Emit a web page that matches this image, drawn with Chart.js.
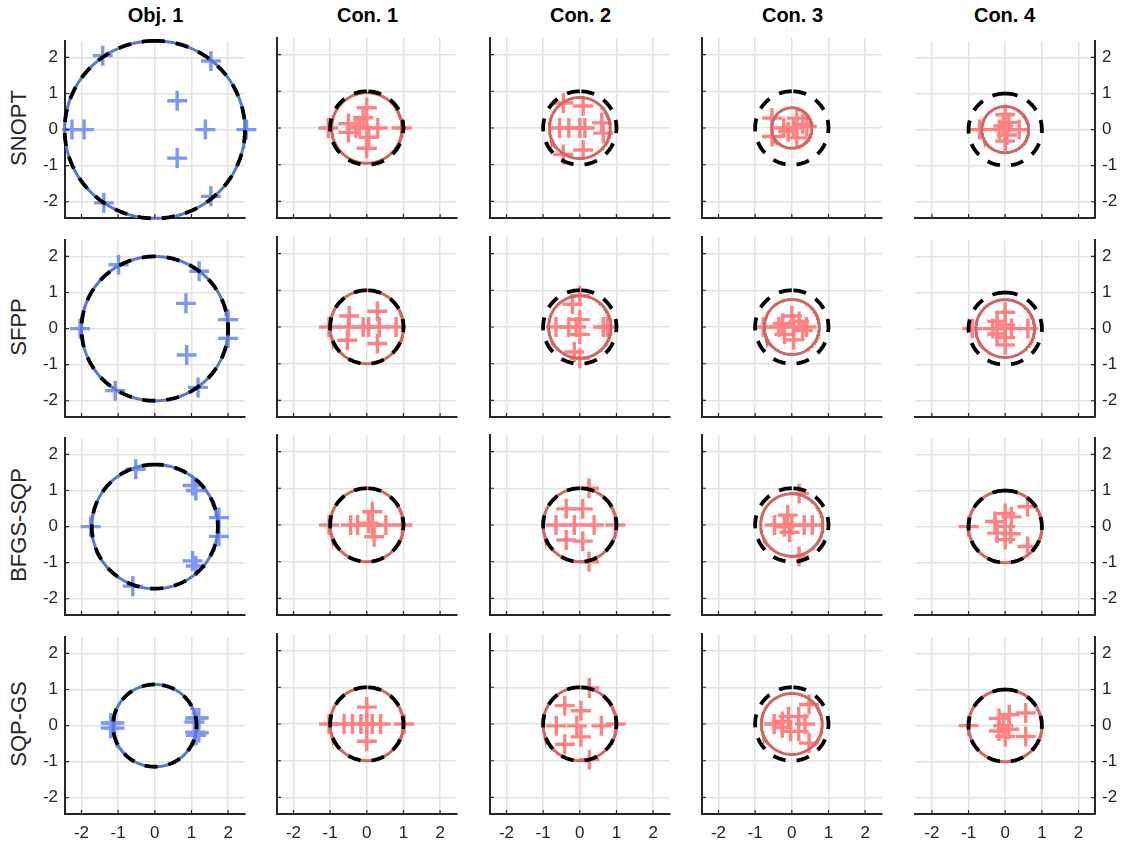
<!DOCTYPE html>
<html>
<head>
<meta charset="utf-8">
<script src="https://cdn.jsdelivr.net/npm/chart.js@4/dist/chart.umd.min.js"></script>
<style>
  body { margin: 0; background: #fff; width: 1126px; height: 846px; position: relative; overflow: hidden;
         font-family: "Liberation Sans", Arial, sans-serif; color: #262626; }
  canvas { position: absolute; }
  .title { position: absolute; top: 4px; width: 200px; text-align: center; font-weight: bold; font-size: 20px; color: #000; }
  .rowlab { position: absolute; width: 180px; height: 26px; line-height: 26px; text-align: center; font-size: 22px;
            transform: rotate(-90deg); }
</style>
</head>
<body>
<script>
// Rows (solvers) and columns (objective / constraints)
const rowNames = ['SNOPT', 'SFPP', 'BFGS-SQP', 'SQP-GS'];
const colNames = ['Obj. 1', 'Con. 1', 'Con. 2', 'Con. 3', 'Con. 4'];
const tickVals = [-2, -1, 0, 1, 2];

// radius of the solid (fitted) circle per column
const snoptRadius = [2.46, 0.96, 0.83, 0.55, 0.64];
const sfppRadius  = [2.0, 1.0, 0.85, 0.75, 0.8];
const bfgsRadius  = [1.72, 1.0, 1.0, 0.85, 1.0];
const sqpgsRadius = [1.14, 1.0, 1.0, 0.83, 1.0];

// radius of the dashed black circle per column
const snoptBound = [2.46, 1, 1, 1, 1];
const sfppBound  = [2.0, 1, 1, 1, 1];
const bfgsBound  = [1.72, 1, 1, 1, 1];
const sqpgsBound = [1.14, 1, 1, 1, 1];

// cross markers, one list per column
const snoptPts = [
  [[-1.42, 2.05], [1.53, 1.9], [0.61, 0.8], [-2.26, 0], [-1.93, 0], [1.38, 0], [2.5, 0], [0.61, -0.79], [1.53, -1.85], [-1.39, -2.03]],
  [[-1.05, 0], [-0.5, 0.12], [-0.5, -0.12], [-0.3, 0], [-0.1, 0.28], [0, 0.55], [0, 0], [0.05, -0.25], [0, -0.55], [0.3, 0], [0.95, 0], [-0.2, 0.05]],
  [[-0.45, 0.68], [0.09, 0.6], [-0.55, 0], [-0.3, 0], [0, 0], [0.14, 0], [0.6, 0.14], [0.64, -0.14], [0.09, -0.6], [-0.45, -0.72]],
  [[-0.54, 0.27], [-0.54, -0.23], [-0.22, 0], [0.14, 0.27], [0.14, -0.27], [0.41, 0.04], [0.05, 0], [0.3, 0.1], [-0.1, -0.1]],
  [[-0.7, 0], [0, 0.41], [0, -0.32], [0.38, 0], [-0.16, 0], [0.1, 0.2], [-0.05, 0.1], [0.05, -0.15], [0, 0]]
];
const sfppPts = [
  [[-0.99, 1.77], [1.21, 1.59], [0.85, 0.7], [-2.04, 0], [2.0, 0.25], [2.0, -0.27], [0.87, -0.73], [-1.08, -1.72], [1.18, -1.63]],
  [[-1.03, 0], [-0.48, 0.3], [-0.5, 0], [-0.53, -0.36], [-0.1, 0], [0.05, 0], [0.29, 0.43], [0.29, -0.45], [0.34, 0], [0.8, 0]],
  [[0, 0.85], [-0.2, 0.62], [-0.65, 0], [-0.3, 0], [-0.1, 0], [0.64, 0], [0.75, 0], [-0.15, -0.68], [0, -0.85], [0, 0.2], [0, -0.2]],
  [[-0.78, 0], [-0.35, 0], [-0.25, 0.1], [-0.2, -0.2], [0, 0.3], [0.05, 0], [0.05, -0.35], [0.2, 0.15], [0.4, 0], [0.3, -0.1]],
  [[-0.9, 0], [-0.22, 0.2], [-0.22, -0.15], [0, 0.45], [0, -0.45], [0.62, 0], [-0.34, 0], [0.17, 0], [0, 0.1], [0, -0.25]]
];
const bfgsPts = [
  [[-0.52, 1.59], [1.03, 1.14], [1.12, 1.0], [-1.75, 0], [1.75, 0.25], [1.75, -0.27], [1.03, -0.95], [1.12, -1.09], [-0.6, -1.65]],
  [[-1.03, 0], [-0.44, 0], [-0.25, 0], [0.15, 0.36], [0.15, 0], [0.2, -0.32], [0.52, 0], [0.97, 0], [0.05, 0.05]],
  [[0.25, 1.0], [-0.37, 0.44], [0.08, 0.44], [-0.65, 0], [-0.15, 0], [0.39, 0], [0.97, 0], [-0.37, -0.41], [0.08, -0.44], [0.25, -1.0]],
  [[0.2, 0.86], [0.2, -0.86], [-0.47, 0], [-0.11, 0.27], [-0.06, -0.2], [0.34, 0], [0.56, 0], [0, 0], [-0.2, -0.05]],
  [[-1.0, 0], [0.61, 0.55], [0.61, -0.55], [-0.28, 0.14], [0, 0.36], [0.17, 0.27], [-0.22, -0.18], [0, -0.36], [0, 0], [0.15, -0.2]]
];
const sqpgsPts = [
  [[-1.2, 0.07], [-1.1, 0.07], [-1.2, -0.07], [-1.1, -0.07], [1.1, 0.21], [1.2, 0.21], [1.1, -0.18], [1.2, -0.2], [1.08, 0.1], [1.12, -0.27]],
  [[-1.03, 0], [-0.62, 0], [-0.39, 0], [-0.16, 0], [0, 0.46], [0, -0.47], [0.15, 0], [0.38, 0], [1.02, 0], [0, 0]],
  [[0.26, 0.98], [-0.41, 0.5], [0.03, 0.36], [-0.64, -0.05], [-0.08, -0.05], [0.59, -0.05], [0.98, 0], [-0.41, -0.55], [0.03, -0.35], [0.26, -0.97]],
  [[-0.48, 0], [-0.26, 0.07], [-0.09, 0.2], [0.19, 0.2], [-0.03, -0.2], [0.19, -0.2], [0.47, 0.53], [0.47, -0.52], [0.36, 0], [-0.26, -0.1]],
  [[-1.0, 0], [0.56, 0.35], [0.56, -0.3], [-0.17, 0.2], [0.11, 0.3], [-0.17, -0.15], [0, -0.3], [-0.05, 0], [0.1, -0.1]]
];

const radii = [snoptRadius, sfppRadius, bfgsRadius, sqpgsRadius];
const bounds = [snoptBound, sfppBound, bfgsBound, sqpgsBound];
const crosses = [snoptPts, sfppPts, bfgsPts, sqpgsPts];

// layout of the 4x5 grid (plot-area corners in page pixels)
const colLeft = [65, 277, 490, 702, 914];
const rowTop = [38, 237, 435, 634];
const plotW = 181, plotH = 180;

const blueLine = '#5976d4', blueCross = '#7c97f6';
const redLine = '#cf6767', redCross = '#ff8282';
const axisColor = '#262626';

Chart.defaults.font.family = '"Liberation Sans", Arial, sans-serif';

// outline of a circle of radius r, in data units
function circle(r) {
  const pts = [];
  for (let i = 0; i <= 160; i++) {
    const t = Math.PI / 2 + i / 160 * 2 * Math.PI;
    pts.push({ x: r * Math.cos(t), y: r * Math.sin(t) });
  }
  return pts;
}

// short tick marks pointing into the plot, MATLAB style
const innerTicks = {
  id: 'innerTicks',
  afterDraw(chart) {
    const { ctx, chartArea: a, scales } = chart;
    const xs = scales.x, ys = scales.y;
    ctx.save();
    ctx.strokeStyle = axisColor;
    ctx.lineWidth = 1.2;
    ctx.beginPath();
    xs.ticks.forEach(t => {
      const px = xs.getPixelForValue(t.value);
      ctx.moveTo(px, a.bottom);
      ctx.lineTo(px, a.bottom - 4);
    });
    const edge = ys.position === 'right' ? a.right : a.left;
    const dir = ys.position === 'right' ? -1 : 1;
    ys.ticks.forEach(t => {
      const py = ys.getPixelForValue(t.value);
      ctx.moveTo(edge, py);
      ctx.lineTo(edge + dir * 4, py);
    });
    ctx.stroke();
    ctx.restore();
  }
};

function makePanel(r, c) {
  const onRight = c === 4;
  const padL = onRight ? 12 : 40, padR = onRight ? 40 : 12, padT = 14, padB = 34;
  const canvas = document.createElement('canvas');
  canvas.width = padL + plotW + padR;
  canvas.height = padT + plotH + padB;
  canvas.style.left = (colLeft[c] - padL) + 'px';
  canvas.style.top = (rowTop[r] - padT) + 'px';
  document.body.appendChild(canvas);

  const isObj = c === 0;
  const tickFont = { size: 17 };

  new Chart(canvas, {
    type: 'scatter',
    data: {
      datasets: [
        { data: circle(bounds[r][c]), showLine: true, borderColor: '#000', borderWidth: 3.8,
          borderDash: [13, 11], pointRadius: 0, clip: false },
        { data: circle(radii[r][c]), showLine: true, borderColor: isObj ? blueLine : redLine,
          borderWidth: 3, pointRadius: 0, clip: false },
        { data: crosses[r][c].map(([x, y]) => ({ x, y })), pointStyle: 'cross', pointRadius: 10,
          borderWidth: 3.4, borderColor: isObj ? blueCross : redCross, clip: false }
      ]
    },
    options: {
      responsive: false,
      animation: false,
      events: [],
      layout: { padding: { left: onRight ? padL : 0, right: onRight ? 0 : padR, top: padT, bottom: 0 } },
      plugins: { legend: { display: false }, tooltip: { enabled: false } },
      scales: {
        x: {
          type: 'linear', position: 'bottom', min: -2.45, max: 2.45,
          afterBuildTicks: s => { s.ticks = tickVals.map(v => ({ value: v })); },
          afterFit: s => { s.height = padB; },
          grid: { color: '#e2e2e2', lineWidth: 1.5, drawTicks: false },
          border: { display: true, color: axisColor, width: 2 },
          ticks: { display: r === 3, padding: 9, color: axisColor, font: tickFont }
        },
        y: {
          type: 'linear', position: onRight ? 'right' : 'left', min: -2.45, max: 2.45,
          afterBuildTicks: s => { s.ticks = tickVals.map(v => ({ value: v })); },
          afterFit: s => { s.width = onRight ? padR : padL; },
          grid: { color: '#e2e2e2', lineWidth: 1.5, drawTicks: false },
          border: { display: true, color: axisColor, width: 2 },
          ticks: { display: c === 0 || c === 4, padding: 7, color: axisColor, font: tickFont }
        }
      }
    },
    plugins: [innerTicks]
  });
}

colNames.forEach((name, c) => {
  const d = document.createElement('div');
  d.className = 'title';
  d.textContent = name;
  d.style.left = (colLeft[c] + plotW / 2 - 100) + 'px';
  document.body.appendChild(d);
});
rowNames.forEach((name, r) => {
  const d = document.createElement('div');
  d.className = 'rowlab';
  d.textContent = name;
  d.style.left = (19 - 90) + 'px';
  d.style.top = (rowTop[r] + plotH / 2 - 13) + 'px';
  document.body.appendChild(d);
});

for (let r = 0; r < rowNames.length; r++) {
  for (let c = 0; c < colNames.length; c++) makePanel(r, c);
}
</script>
</body>
</html>
